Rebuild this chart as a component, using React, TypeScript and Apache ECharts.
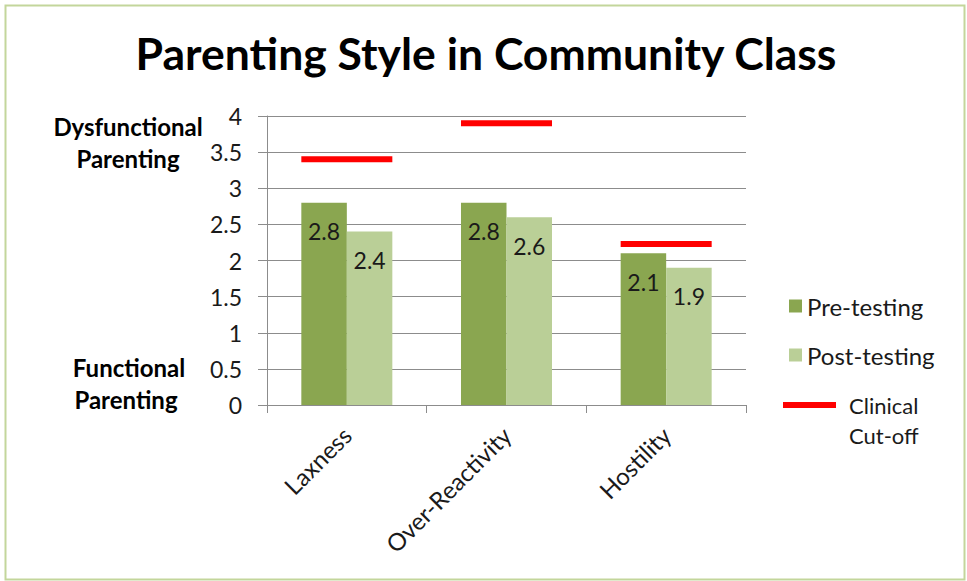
import React, { useEffect, useRef } from "react";
import * as echarts from "echarts";

const categories = ["Laxness", "Over-Reactivity", "Hostility"];
const preTesting = [2.8, 2.8, 2.1];
const postTesting = [2.4, 2.6, 1.9];
const clinicalCutoff = [3.4, 3.9, 2.23];
const yTicks = { min: 0, max: 4, interval: 0.5 };

const FONT = "Lato, 'Open Sans', sans-serif";
const TEXT = "#1a1a1a";
const GRID = "#8c8c8c";

export default function App() {
  const ref = useRef<HTMLDivElement>(null);
  useEffect(() => {
    document.body.style.margin = "0";
    const chart = echarts.init(ref.current!, undefined, { renderer: "svg" });
    const sideLabel = (text: string, x: number, y: number) => ({
      type: "text",
      x,
      y,
      style: {
        text,
        fontFamily: FONT,
        fontWeight: "bold",
        fontSize: 24,
        fill: "#000",
        align: "center",
        verticalAlign: "middle",
      },
    });
    chart.setOption({
      animation: false,
      backgroundColor: "#ffffff",
      textStyle: { fontFamily: FONT },
      title: {
        text: "Parenting Style in Community Class",
        top: 25,
        left: 481,
        textAlign: "center",
        textStyle: { fontFamily: FONT, fontWeight: "bold", fontSize: 44.5, color: "#000" },
      },
      grid: { left: 267, right: 221, top: 116, bottom: 176 },
      legend: [
        {
          orient: "vertical",
          left: 789,
          top: 294,
          padding: 0,
          itemWidth: 13,
          itemHeight: 13,
          itemGap: 25,
          icon: "rect",
          data: ["Pre-testing", "Post-testing"],
          textStyle: { fontFamily: FONT, fontSize: 24, color: TEXT },
          selectedMode: false,
        },
        {
          orient: "vertical",
          left: 783,
          top: 360,
          padding: 0,
          itemWidth: 53,
          itemHeight: 6,
          data: [{ name: "Clinical Cut-off", icon: "rect" }],
          formatter: () => "\nClinical\nCut-off",
          textStyle: {
            fontFamily: FONT,
            fontSize: 22,
            lineHeight: 30,
            color: TEXT,
            padding: [0, 0, 0, 8],
          },
          selectedMode: false,
        },
      ],
      xAxis: {
        type: "category",
        data: categories,
        boundaryGap: true,
        axisLine: { lineStyle: { color: GRID } },
        axisTick: { show: true, length: 8, lineStyle: { color: GRID } },
        axisLabel: {
          rotate: 45,
          margin: 26,
          fontFamily: FONT,
          fontSize: 24,
          color: TEXT,
        },
      },
      yAxis: {
        type: "value",
        min: yTicks.min,
        max: yTicks.max,
        interval: yTicks.interval,
        axisLine: { show: true, lineStyle: { color: GRID } },
        axisTick: { show: true, length: 9, lineStyle: { color: GRID } },
        splitLine: { show: true, lineStyle: { color: GRID } },
        axisLabel: { margin: 25, fontFamily: FONT, fontSize: 23, color: TEXT },
      },
      series: [
        {
          name: "Pre-testing",
          type: "bar",
          data: preTesting,
          barWidth: "28.5%",
          barGap: "0%",
          itemStyle: { color: "#8aa650" },
          label: {
            show: true,
            position: "insideTop",
            distance: 17,
            fontFamily: FONT,
            fontSize: 23,
            color: TEXT,
          },
        },
        {
          name: "Post-testing",
          type: "bar",
          data: postTesting,
          barWidth: "28.5%",
          barGap: "0%",
          itemStyle: { color: "#bacf97" },
          label: {
            show: true,
            position: "insideTop",
            distance: 17,
            fontFamily: FONT,
            fontSize: 23,
            color: TEXT,
          },
        },
        {
          name: "Clinical Cut-off",
          type: "custom",
          itemStyle: { color: "#ff0000" },
          encode: { x: 0, y: 1 },
          data: clinicalCutoff.map((v, i) => [i, v]),
          renderItem: (params: any, api: any) => {
            const p = api.coord([api.value(0), api.value(1)]);
            const bw = api.size([1, 0])[0];
            const w = bw * 0.57;
            return {
              type: "rect",
              shape: { x: p[0] - w / 2, y: p[1] - 3, width: w, height: 6 },
              style: { fill: "#ff0000" },
            };
          },
        },
      ],
      graphic: [
        {
          type: "rect",
          left: 3,
          top: 3,
          shape: { width: 959, height: 574 },
          style: { fill: "none", stroke: "#c3d69b", lineWidth: 2 },
          silent: true,
        },
        sideLabel("Dysfunctional", 128, 126),
        sideLabel("Parenting", 128, 158),
        sideLabel("Functional", 129, 367),
        sideLabel("Parenting", 126, 399),
      ],
    });
    return () => chart.dispose();
  }, []);
  return (
    <div
      ref={ref}
      style={{ position: "fixed", left: 0, top: 0, width: 967, height: 581 }}
    />
  );
}
